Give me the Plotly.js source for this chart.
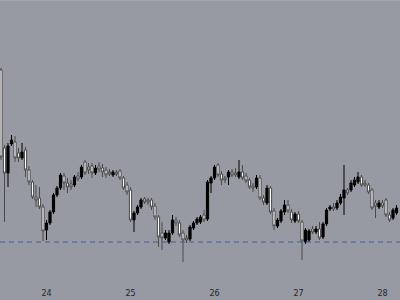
<!DOCTYPE html>
<html>
<head>
<meta charset="utf-8">
<script src="https://cdn.plot.ly/plotly-3.0.1.min.js"></script>
<style>
html,body{margin:0;padding:0;background:#979aa2;}
#chart{width:400px;height:300px;}
</style>
</head>
<body>
<div id="chart"></div>
<script>
// hourly bars, index 0..113
const openV  = [230,152,127,156,158,147,142,150,130,118,103,102,93,70,77,88,105,112,124,117,116,115,124,123,138,133,134,127,134,132,130,128,125,128,129,122,115,110,80,87,93,101,100,100,94,83,67,62,58,67,80,77,67,62,61,72,77,78,85,81,117,122,135,126,122,123,128,127,123,128,124,120,114,113,122,102,97,112,89,74,79,88,95,88,79,86,78,58,60,71,68,71,63,76,91,93,92,97,102,110,110,115,118,123,117,115,110,97,93,97,100,85,82,87];
const highV  = [232,155,157,165,164,152,157,153,134,120,115,113,96,80,90,107,114,127,127,122,120,125,128,135,140,137,137,135,138,136,133,131,130,130,131,124,118,113,89,95,102,103,102,102,97,85,78,70,70,85,83,80,70,65,75,79,83,85,90,120,124,135,137,129,124,130,131,132,140,135,127,122,117,125,125,105,115,114,92,82,91,100,100,91,88,89,80,72,71,74,74,78,78,92,95,97,100,106,135,112,120,123,128,125,120,117,112,100,100,100,102,88,92,95];
const lowV   = [140,78,113,154,138,138,140,123,115,101,93,91,59,60,75,86,103,110,110,107,110,113,119,121,125,126,122,125,128,123,122,124,123,124,120,110,105,78,68,85,91,96,95,90,80,53,50,60,56,65,74,63,38,57,59,70,75,76,78,79,107,120,123,115,117,115,123,123,121,120,117,111,108,111,100,95,95,86,70,72,77,85,87,77,77,77,40,56,58,66,66,60,61,74,89,89,90,95,85,105,108,113,116,113,113,106,90,82,91,92,83,78,80,85];
const closeV = [143,127,154,160,142,142,148,130,118,103,100,93,69,77,88,105,112,125,117,113,113,123,121,133,127,130,127,132,131,128,125,126,128,126,122,112,108,80,87,93,100,98,98,93,83,63,62,67,67,80,77,65,60,60,73,77,81,83,80,118,122,133,125,120,120,128,125,125,128,122,119,113,112,122,102,98,112,88,74,80,89,95,89,80,86,79,59,70,69,68,71,62,76,90,93,91,97,103,110,107,117,120,123,115,115,108,92,94,97,94,85,80,90,92];
const dayTickIndex = [13,37,61,85,109];
const dayTickLabels = ["24","25","26","27","28"];
const levelValue = 58;

const idx = openV.map((_, i) => i);

const trace = {
  type: 'candlestick',
  x: idx,
  open: openV, high: highV, low: lowV, close: closeV,
  increasing: {line: {color: '#000000', width: 1}, fillcolor: '#000000'},
  decreasing: {line: {color: '#4a4a4a', width: 1}, fillcolor: '#ffffff'},
  whiskerwidth: 0,
  hoverinfo: 'skip'
};

const layout = {
  width: 400, height: 300,
  margin: {l: 0, r: 0, t: 0, b: 20, pad: 0},
  paper_bgcolor: '#979aa2',
  plot_bgcolor: '#979aa2',
  showlegend: false,
  boxgap: 0.12,
  xaxis: {
    range: [-0.286, 114.0],
    rangeslider: {visible: false},
    showgrid: false, zeroline: false, showline: false,
    tickmode: 'array', tickvals: dayTickIndex, ticktext: dayTickLabels,
    ticks: '', ticklabelstandoff: 7,
    tickfont: {family: 'DejaVu Sans, sans-serif', size: 8, color: '#23252c'}
  },
  yaxis: {
    range: [20, 300],
    visible: false, showgrid: false, zeroline: false
  },
  shapes: [
    {type: 'line', xref: 'paper', x0: 0, x1: 1, yref: 'y', y0: levelValue, y1: levelValue,
     line: {color: '#4658a8', width: 1, dash: '5px,4px'}},
    {type: 'line', xref: 'paper', x0: 0, x1: 1, yref: 'paper', y0: 1, y1: 1,
     line: {color: '#aeb0b6', width: 1}}
  ]
};

Plotly.newPlot('chart', [trace], layout, {staticPlot: true, displayModeBar: false});
</script>
</body>
</html>
